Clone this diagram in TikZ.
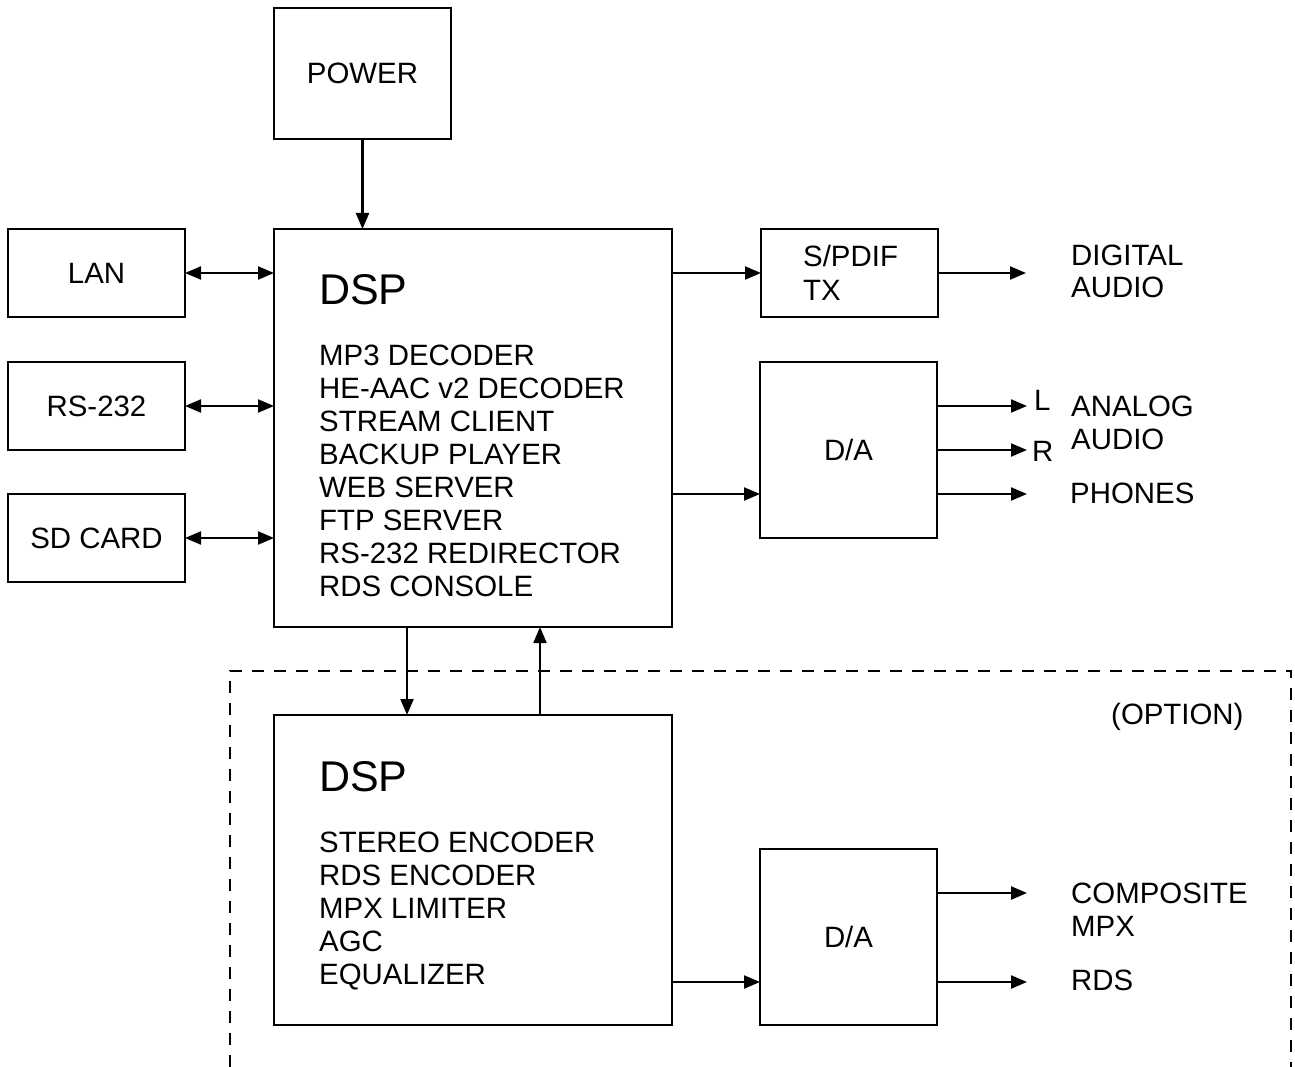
\documentclass[tikz,border=0pt]{standalone}
\usepackage{fontspec}
\setmainfont{Liberation Sans}
\usetikzlibrary{arrows.meta}
\begin{document}
\begin{tikzpicture}[x=1pt,y=-1pt,
  box/.style={draw,line width=2.2pt,inner sep=0pt,outer sep=0pt,font=\fontsize{29.4}{33}\selectfont},
  txt/.style={inner sep=0pt,anchor=base west,font=\fontsize{29.4}{33}\selectfont},
  big/.style={inner sep=0pt,anchor=base west,font=\fontsize{43}{48}\selectfont},
  arr/.style={line width=2.2pt,-{Triangle[length=16pt,width=13pt]}},
  darr/.style={line width=2.2pt,{Triangle[length=16pt,width=13pt]}-{Triangle[length=16pt,width=13pt]}},
  optbox/.style={line width=2.2pt,dash pattern=on 12pt off 10pt}]
\useasboundingbox (0,0) rectangle (1295,1067);
% boxes
\node[box,minimum width=177,minimum height=131] (power) at (362.5,73.5) {POWER};
\node[box,minimum width=398,minimum height=398] (dsp) at (473,428) {};
\node[box,minimum width=177,minimum height=88] (lan) at (96.5,273) {LAN};
\node[box,minimum width=177,minimum height=88] (rs) at (96.5,406) {RS-232};
\node[box,minimum width=177,minimum height=88] (sd) at (96.5,538) {SD CARD};
\node[box,minimum width=177,minimum height=88] (spdif) at (849.5,273) {};
\node[box,minimum width=177,minimum height=176] (da1) at (848.5,450) {D/A};
\node[box,minimum width=398,minimum height=310] (dsp2) at (473,870) {};
\node[box,minimum width=177,minimum height=176] (da2) at (848.5,937) {D/A};
% texts
\node[txt] (sp1) at (803,267) {S/PDIF};
\node[txt] (sp2) at (803,300) {TX};
\node[big] (dspt) at (319,305) {DSP};
\foreach \t [count=\i] in {MP3 DECODER,HE-AAC v2 DECODER,STREAM CLIENT,BACKUP PLAYER,WEB SERVER,FTP SERVER,RS-232 REDIRECTOR,RDS CONSOLE}
  \node[txt] (m\i) at (319,{355+10.4+33*(\i-1)}) {\t};
\node[big] (dspt2) at (319,791) {DSP};
\foreach \t [count=\i] in {STEREO ENCODER,RDS ENCODER,MPX LIMITER,AGC,EQUALIZER}
  \node[txt] (b\i) at (319,{842+10.4+33*(\i-1)}) {\t};
\node[txt] (dig1) at (1071,265.4) {DIGITAL};
\node[txt] (dig2) at (1071,298) {AUDIO};
\node[txt] (an1) at (1071,416.4) {ANALOG};
\node[txt] (an2) at (1071,449.4) {AUDIO};
\node[txt] (phn) at (1070,503.4) {PHONES};
\node[txt] (lt) at (1034,410.4) {L};
\node[txt] (rt) at (1032,461.4) {R};
\node[txt] (opt) at (1111,724.4) {(OPTION)};
\node[txt] (cmp1) at (1071,903.4) {COMPOSITE};
\node[txt] (cmp2) at (1071,936.4) {MPX};
\node[txt] (rds) at (1071,990.4) {RDS};
% free ends
\coordinate (edig) at (1026,273);
\coordinate (el) at (1027,406);
\coordinate (er) at (1027,450);
\coordinate (eph) at (1027,494);
\coordinate (ecmp) at (1027,893);
\coordinate (erds) at (1027,982);
% connectors
\draw[arr] (power.south) -- (power.south |- dsp.north);
\draw[darr] (lan.east) -- (lan.east -| dsp.west);
\draw[darr] (rs.east) -- (rs.east -| dsp.west);
\draw[darr] (sd.east) -- (sd.east -| dsp.west);
\draw[arr] (dsp.east |- spdif.west) -- (spdif.west);
\draw[arr] (spdif.east) -- (edig);
\draw[arr] (dsp.east |- eph) -- (da1.west |- eph);
\draw[arr] (da1.east |- el) -- (el);
\draw[arr] (da1.east |- er) -- (er);
\draw[arr] (da1.east |- eph) -- (eph);
\draw[arr] (dsp.south -| 407,0) -- (dsp2.north -| 407,0);
\draw[arr] (dsp2.north -| 540,0) -- (dsp.south -| 540,0);
\draw[arr] (dsp2.east |- erds) -- (da2.west |- erds);
\draw[arr] (da2.east |- ecmp) -- (ecmp);
\draw[arr] (da2.east |- erds) -- (erds);
% option frame
\draw[optbox] (230,1067) -- (230,671) -- (1291,671) -- (1291,1067);
\end{tikzpicture}
\end{document}
